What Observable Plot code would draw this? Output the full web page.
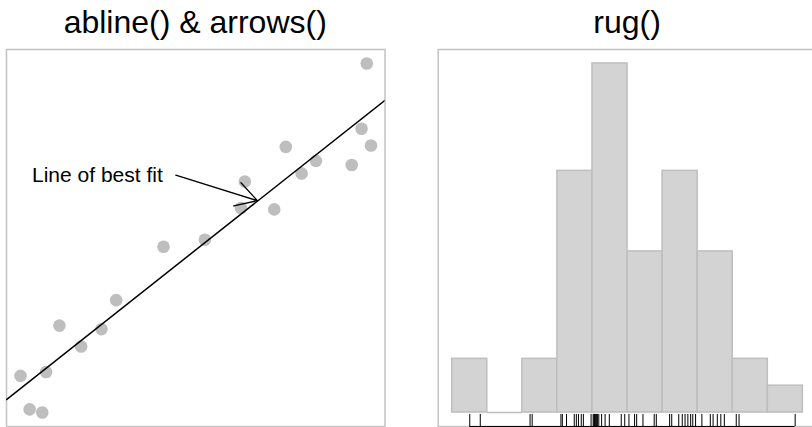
<!DOCTYPE html>
<html><head><meta charset="utf-8">
<script src="https://cdn.jsdelivr.net/npm/d3@7"></script>
<script src="https://cdn.jsdelivr.net/npm/@observablehq/plot@0.6"></script>
<style>
html,body{margin:0;padding:0;background:#fff;}
#wrap{position:relative;width:812px;height:427px;overflow:hidden;font-family:"Liberation Sans",Arial,Helvetica,sans-serif;}
.panel{position:absolute;top:0;height:427px;}
.title{position:absolute;top:2px;height:40px;line-height:40px;text-align:center;font-size:32px;color:#000;white-space:nowrap;}
.panel svg{position:absolute;top:40px;left:0;}
</style></head><body>
<div id="wrap">
  <div class="panel" id="left" style="left:0;width:406px;"><div class="title" style="left:6px;width:378.5px">abline() &amp; arrows()</div></div>
  <div class="panel" id="right" style="left:406px;width:411px;"><div class="title" style="left:31.7px;width:378.7px">rug()</div></div>
</div>
<script>
// ---- left panel data: scatter points ----
const pointX = [0.00, 0.26, 0.62, 0.73, 1.11, 1.73, 2.31, 2.73, 4.08, 5.26, 6.29, 6.40, 7.24, 7.57, 8.02, 8.43, 9.45, 9.73, 9.88, 10.00];
const pointY = [1.05, 0.09, 0.00, 1.16, 2.49, 1.89, 2.39, 3.22, 4.75, 4.95, 5.86, 6.62, 5.82, 7.61, 6.85, 7.21, 7.09, 8.13, 10.00, 7.65];
// abline(a, b)
const ablineIntercept = 0.689;
const ablineSlope = 0.794;
// arrows(x0, y0, x1, y1) and its label
const arrowTail = [4.43, 6.80];
const arrowHead = [6.76, 6.07];
const annotationLabel = "Line of best fit";

// ---- right panel data: sample values (rug) and histogram breaks ----
const rugValues = [-2.25, -2.10, -1.39, -1.36,
  -0.95, -0.93, -0.87, -0.76, -0.73, -0.70, -0.66, -0.63, -0.52,
  -0.49, -0.48, -0.47, -0.46, -0.45, -0.44, -0.43, -0.41, -0.37, -0.32, -0.26, -0.09, -0.04,
  0.02, 0.10, 0.13, 0.22, 0.38, 0.41,
  0.60, 0.63, 0.73, 0.78, 0.82, 0.86, 0.90, 0.93, 0.97,
  1.06, 1.18, 1.22, 1.28, 1.33, 1.38,
  1.55, 1.59, 2.39];
const histBreaks = [-2.5, -2.0, -1.5, -1.0, -0.5, 0.0, 0.5, 1.0, 1.5, 2.0, 2.5];

// R-style axis extension (4%)
function ext(lo, hi) { const p = (hi - lo) * 0.04; return [lo - p, hi + p]; }

const points = pointX.map((x, i) => ({x, y: pointY[i]}));
const xDomL = ext(d3.min(pointX), d3.max(pointX));
const yDomL = ext(d3.min(pointY), d3.max(pointY));
const lineData = xDomL.map(x => ({x, y: ablineIntercept + ablineSlope * x}));
const arrowData = [{x1: arrowTail[0], y1: arrowTail[1], x2: arrowHead[0], y2: arrowHead[1], label: annotationLabel}];

const left = Plot.plot({
  width: 406, height: 387,
  marginLeft: 6, marginRight: 21.5, marginTop: 9, marginBottom: 1,
  x: {domain: xDomL, axis: null},
  y: {domain: yDomL, axis: null},
  style: {fontFamily: '"Liberation Sans", Arial, Helvetica, sans-serif', background: "transparent", overflow: "visible"},
  marks: [
    Plot.frame({stroke: "#c4c4c4", strokeWidth: 1.5}),
    Plot.dot(points, {x: "x", y: "y", r: 6.3, fill: "#bebebe", stroke: "none"}),
    Plot.line(lineData, {x: "x", y: "y", stroke: "#000", strokeWidth: 1.5, clip: true}),
    Plot.arrow(arrowData, {x1: "x1", y1: "y1", x2: "x2", y2: "y2", stroke: "#000", strokeWidth: 1.3, headLength: 28, headAngle: 60}),
    Plot.text(arrowData, {x: "x1", y: "y1", text: "label", textAnchor: "end", lineAnchor: "middle", dx: -13, fontSize: 21, fill: "#000"})
  ]
});
document.getElementById("left").appendChild(left);

const bins = histBreaks.slice(0, -1).map((b, i) => ({
  x1: b, x2: histBreaks[i + 1],
  count: rugValues.filter(v => v >= b && v < histBreaks[i + 1]).length
}));
const xDomR = ext(histBreaks[0], histBreaks[histBreaks.length - 1]);
const yDomR = ext(0, d3.max(bins, d => d.count));
const rugLen = (yDomR[1] - yDomR[0]) * 0.032;

const right = Plot.plot({
  width: 411, height: 387,
  marginLeft: 31.7, marginRight: 0.6, marginTop: 9, marginBottom: 1,
  x: {domain: xDomR, axis: null},
  y: {domain: yDomR, axis: null},
  style: {background: "transparent", overflow: "visible"},
  marks: [
    Plot.frame({stroke: "#c4c4c4", strokeWidth: 1.5}),
    Plot.rectY(bins.filter(d => d.count > 0), {x1: "x1", x2: "x2", y1: 0, y2: "count", fill: "#d3d3d3", stroke: "#bebebe", strokeWidth: 1.5, inset: 0}),
    Plot.ruleY(bins.filter(d => d.count === 0), {x1: "x1", x2: "x2", y: "count", stroke: "#bebebe", strokeWidth: 1.5}),
    Plot.ruleY([yDomR[0]], {x1: d3.min(rugValues), x2: d3.max(rugValues), stroke: "#000", strokeWidth: 1}),
    Plot.ruleX(rugValues, {x: d => d, y1: yDomR[0], y2: yDomR[0] + rugLen, stroke: "#000", strokeWidth: 1})
  ]
});
document.getElementById("right").appendChild(right);
</script>
</body></html>
